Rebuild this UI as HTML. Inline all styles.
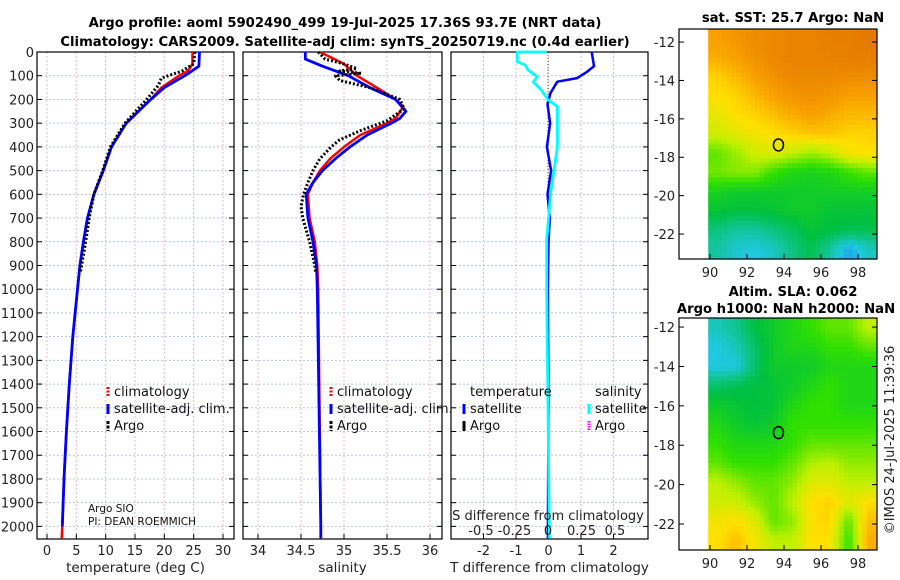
<!DOCTYPE html>
<html><head><meta charset="utf-8"><style>
body{margin:0;background:#fff}
svg{display:block;font-family:"DejaVu Sans","Liberation Sans",sans-serif}
</style></head><body>
<svg id="c" width="900" height="580">
<text x="345" y="27" text-anchor="middle" font-size="13.2" font-weight="bold">Argo profile: aoml 5902490_499 19-Jul-2025 17.36S 93.7E (NRT data)</text>
<text x="345" y="46" text-anchor="middle" font-size="13.2" font-weight="bold">Climatology: CARS2009. Satellite-adj clim: synTS_20250719.nc (0.4d earlier)</text>
<text x="793" y="22" text-anchor="middle" font-size="13.2" font-weight="bold">sat. SST: 25.7 Argo: NaN</text>
<text x="793" y="296" text-anchor="middle" font-size="13.2" font-weight="bold">Altim. SLA: 0.062</text>
<text x="786" y="313" text-anchor="middle" font-size="13.2" font-weight="bold">Argo h1000: NaN h2000: NaN</text>
<text transform="translate(894,440) rotate(-90)" text-anchor="middle" font-size="13" fill="#222">©IMOS 24-Jul-2025 11:39:36</text>
</svg>
<script>
const depthTicks=[0,100,200,300,400,500,600,700,800,900,1000,1100,1200,1300,1400,1500,1600,1700,1800,1900,2000];
const tempTicks=[0,5,10,15,20,25,30];
const salTicks=[34,34.5,35,35.5,36];
const tdTicks=[-2,-1,0,1,2];
const sdTicks=[-0.5,-0.25,0,0.25,0.5];
const sdTickLabels=["-0.5","-0.25","0","0.25","0.5"];
const tClimD=[0,50,80,100,150,200,300,400,500,600,700,800,900,1000,1200,1400,1600,1800,2000,2050];
const tClimV=[24.8,24.8,24,22.5,19.5,17.7,13.5,11,9.6,8,6.9,6.2,5.6,5.2,4.4,3.8,3.3,2.9,2.6,2.5];
const tSatD=[0,60,100,150,200,300,400,500,600,700,800,900,1000,1200,1400,1600,1800,2000];
const tSatV=[26,25.9,23.5,20,17.7,13.5,11,9.6,8,6.9,6.2,5.6,5.2,4.4,3.8,3.3,2.9,2.6];
const tArgoD=[0,50,80,110,140,170,200,300,400,500,600,700,800,900,930];
const tArgoV=[25.2,25,23,19.5,19,18,17,13.3,10.8,9.5,8,7.2,6.6,5.9,5.7];
const sClimD=[0,50,100,150,200,230,280,300,350,400,450,500,550,600,700,800,900,1000,2000,2050];
const sClimV=[34.72,35.0,35.15,35.38,35.6,35.69,35.6,35.5,35.19,35.0,34.84,34.72,34.64,34.58,34.6,34.66,34.69,34.7,34.73,34.73];
const sSatD=[0,30,60,100,150,200,250,280,300,350,400,450,500,550,600,700,800,900,1000,2000,2050];
const sSatV=[34.55,34.55,34.75,35.05,35.3,35.6,35.72,35.65,35.55,35.27,35.07,34.9,34.75,34.64,34.56,34.58,34.64,34.68,34.69,34.73,34.73];
const sArgoD=[0,30,50,70,80,90,100,120,150,200,240,290,330,370,400,450,500,550,600,650,700,800,900,930];
const sArgoV=[34.7,34.78,35.0,35.15,34.95,35.2,34.9,34.95,35.3,35.65,35.7,35.5,35.2,34.95,34.85,34.72,34.64,34.58,34.53,34.5,34.52,34.6,34.66,34.67];
const tdD=[0,60,84,110,125,173,220,300,400,500,600,700,800,1000,1500,2000,2050];
const tdV=[1.33,1.4,1.18,0.88,0.27,0.06,-0.03,0.05,-0.05,0.08,-0.03,0.04,0,-0.02,0,-0.02,-0.02];
const sdD=[0,0,41,55,76,104,126,160,202,230,400,595,792,1000,1500,2000,2050];
const sdV=[-0.01,-0.23,-0.23,-0.17,-0.15,-0.08,-0.11,-0.05,0,0.07,0.07,0.02,-0.01,-0.01,0,0.01,0.01];
const sstGrid=[
[.9,.92,.94,.95,.96,.96,.97,.97,.98],
[.88,.9,.93,.95,.96,.96,.96,.97,.97],
[.82,.86,.9,.93,.95,.95,.95,.94,.94],
[.8,.82,.86,.9,.92,.93,.92,.9,.9],
[.76,.8,.82,.85,.88,.9,.88,.86,.86],
[.72,.75,.78,.8,.82,.84,.84,.82,.82],
[.6,.66,.72,.74,.7,.66,.7,.78,.8],
[.62,.64,.64,.55,.5,.48,.5,.55,.6],
[.48,.45,.45,.45,.45,.45,.46,.46,.46],
[.42,.4,.4,.42,.45,.45,.42,.42,.42],
[.32,.28,.28,.32,.36,.42,.4,.38,.38],
[.28,.22,.2,.24,.32,.38,.28,.14,.24]];
const slaGrid=[
[.25,.3,.4,.45,.5,.55,.6,.6,.7],
[.2,.25,.35,.45,.5,.5,.55,.55,.6],
[.2,.2,.35,.45,.45,.45,.5,.5,.5],
[.35,.38,.4,.42,.45,.5,.55,.5,.5],
[.45,.42,.4,.42,.5,.55,.55,.5,.5],
[.5,.45,.42,.45,.55,.55,.55,.55,.55],
[.55,.5,.5,.5,.55,.6,.6,.6,.6],
[.6,.55,.55,.55,.6,.68,.7,.65,.65],
[.7,.65,.6,.6,.65,.75,.75,.7,.7],
[.72,.72,.65,.6,.7,.8,.82,.75,.8],
[.78,.8,.75,.6,.65,.8,.82,.6,.85],
[.8,.85,.78,.7,.7,.8,.8,.55,.88]];
const lonTicks=[90,92,94,96,98];
const latTicks=[-12,-14,-16,-18,-20,-22];
const floatLon=93.7, floatLat=-17.36;

const svg=document.getElementById('c');const NS='http://www.w3.org/2000/svg';
function mk(t,a,p){const e=document.createElementNS(NS,t);for(const k in a)e.setAttribute(k,a[k]);(p||svg).appendChild(e);return e;}
const Y0=52,Y1=539;
const yD=d=>Y0+d*0.2372;
function lin(d0,d1,r0,r1){return v=>r0+(v-d0)/(d1-d0)*(r1-r0);}
const panels=[
 {name:'temperature',x0:37,x1:234,sx:lin(0,30,47,223),ticks:tempTicks,lab:tempTicks.map(String),xl:'temperature (deg C)'},
 {name:'salinity',x0:243,x1:442,sx:lin(34,36,258,430),ticks:salTicks,lab:salTicks.map(String),xl:'salinity'},
 {name:'difference',x0:451,x1:648,sx:lin(-1,1,516,581),ticks:tdTicks,lab:tdTicks.map(String),xl:'T difference from climatology'}];
panels.forEach((p,i)=>{
 const g=mk('g',{});
 
 
 depthTicks.forEach(d=>{const l=mk('line',{x1:p.x0,x2:p.x1,y1:yD(d),y2:yD(d),stroke:'#b8c4e8','stroke-width':1,'stroke-dasharray':'2,2'},g);
  mk('line',{x1:p.x0,x2:p.x0+5,y1:yD(d),y2:yD(d),stroke:'#000'},g);mk('line',{x1:p.x1,x2:p.x1-5,y1:yD(d),y2:yD(d),stroke:'#000'},g);});
 p.ticks.forEach((t,j)=>{const x=p.sx(t);const l=mk('line',{x1:x,x2:x,y1:Y0,y2:Y1,stroke:'#d8c0c0','stroke-width':1,'stroke-dasharray':'2,2'},g);
  mk('line',{x1:x,x2:x,y1:Y1,y2:Y1-5,stroke:'#000'},g);
  const tx=mk('text',{x:x,y:555,'text-anchor':'middle','font-size':13,fill:'#222'},g);tx.textContent=p.lab[j];});
 mk('rect',{x:p.x0,y:Y0,width:p.x1-p.x0,height:Y1-Y0,fill:'none',stroke:'#000','stroke-width':1.2},g);
 const xl=mk('text',{x:(p.x0+p.x1)/2,y:572,'text-anchor':'middle','font-size':13.5,fill:'#222'},g);xl.textContent=p.xl;
});
depthTicks.forEach(d=>{const t=mk('text',{x:34,y:yD(d)+5,'text-anchor':'end','font-size':13,fill:'#222'});t.textContent=d;});
function line(D,V,sx,col,w,dash,name){const pts=D.map((d,i)=>sx(V[i]).toFixed(1)+','+yD(d).toFixed(1)).join(' ');const a={points:pts,fill:'none',stroke:col,'stroke-width':w,'stroke-linejoin':'round'};if(dash)a['stroke-dasharray']=dash;const e=mk('polyline',a);}
const P=panels;
line(tClimD,tClimV,P[0].sx,'#f00',2.5,null,'temp-climatology-line');
line(tSatD,tSatV,P[0].sx,'#00f',2.8,null,'temp-satellite-line');
line(tArgoD,tArgoV,P[0].sx,'#000',3,'2,2','temp-argo-line');
line(sClimD,sClimV,P[1].sx,'#f00',2.5,null,'sal-climatology-line');
line(sSatD,sSatV,P[1].sx,'#00f',2.8,null,'sal-satellite-line');
line(sArgoD,sArgoV,P[1].sx,'#000',3,'2,2','sal-argo-line');
const zl=mk('line',{x1:548,x2:548,y1:Y0,y2:Y1,stroke:'#555','stroke-dasharray':'1,2'});
const sdx=lin(-0.5,0.5,481,615);
line(tdD,tdV,P[2].sx,'#00f',2.5,null,'temp-diff-line');
line(sdD,sdV,sdx,'#0ff',2.8,null,'salinity-diff-line');
function leg(x,y,col,txt,name,dash){const g=mk('g',{});
 if(col){const a={x1:x,x2:x,y1:y-9,y2:y+1,stroke:col,'stroke-width':3};if(dash)a['stroke-dasharray']=dash;mk('line',a,g);}
 const t=mk('text',{x:x+6,y:y,'font-size':13,fill:'#111'},g);t.textContent=txt;}
[[108,'#f00','climatology','2,1.5'],[108,'#00f','satellite-adj. clim.'],[108,'#000','Argo','3,1.5']].forEach((a,i)=>leg(a[0],396+i*17,a[1],a[2],'temp-legend-'+i,a[3]));
[[331,'#f00','climatology','2,1.5'],[331,'#00f','satellite-adj. clim.'],[331,'#000','Argo','3,1.5']].forEach((a,i)=>leg(a[0],396+i*17,a[1],a[2],'sal-legend-'+i,a[3]));
leg(464,396,null,'temperature','diff-legend-temp-header');leg(589,396,null,'salinity','diff-legend-sal-header');
leg(464,413,'#00f','satellite','diff-legend-temp-sat');leg(464,430,'#000','Argo','diff-legend-temp-argo');
leg(589,413,'#0ff','satellite','diff-legend-sal-sat');leg(589,430,'#f0f','Argo','diff-legend-sal-argo','1.5,1');
const st=mk('text',{x:548,y:520,'text-anchor':'middle','font-size':13,fill:'#222'});st.textContent='S difference from climatology';
sdTicks.forEach((t,i)=>{const e=mk('text',{x:sdx(t),y:535,'text-anchor':'middle','font-size':13,fill:'#222'});e.textContent=sdTickLabels[i];});
const a1=mk('text',{x:88,y:512,'font-size':10.5,fill:'#111'});a1.textContent='Argo SIO';
const a2=mk('text',{x:88,y:525,'font-size':10.5,fill:'#111'});a2.textContent='PI: DEAN ROEMMICH';
const stops=[[0,[16,96,255]],[0.2,[32,200,224]],[0.4,[0,192,64]],[0.55,[48,224,0]],[0.7,[192,240,0]],[0.8,[255,224,0]],[0.9,[248,160,0]],[1,[224,112,0]]];
function cmap(v){for(let i=1;i<stops.length;i++){if(v<=stops[i][0]){const a=stops[i-1],b=stops[i],f=(v-a[0])/(b[0]-a[0]);return 'rgb('+a[1].map((c,k)=>Math.round(c+(b[1][k]-c)*f)).join(',')+')';}}return 'rgb(224,112,0)';}
function sample(grid,fr,fc){const nr=grid.length,nc=grid[0].length;
 fr=Math.max(0,Math.min(nr-1,fr));fc=Math.max(0,Math.min(nc-1,fc));
 const r0=Math.floor(fr),c0=Math.floor(fc),r1=Math.min(nr-1,r0+1),c1=Math.min(nc-1,c0+1),a=fr-r0,b=fc-c0;
 return grid[r0][c0]*(1-a)*(1-b)+grid[r0][c1]*(1-a)*b+grid[r1][c0]*a*(1-b)+grid[r1][c1]*a*b;}
function map(grid,yTop,yBot,lat0,lat1,name){
 const g=mk('g',{});
 const sxl=lin(90,98,710,858);
 const syl=lin(lat0,lat1,yTop,yBot);
 const nr=grid.length,nc=grid[0].length,S=4;
 const lonA=89.9,lonB=99.0;
 for(let r=0;r<nr*S;r++)for(let c=0;c<nc*S;c++){
  const x=sxl(lonA+(lonB-lonA)*c/(nc*S)),x2=sxl(lonA+(lonB-lonA)*(c+1)/(nc*S));
  const y=syl(lat0+(lat1-lat0)*r/(nr*S)),y2=syl(lat0+(lat1-lat0)*(r+1)/(nr*S));
  const v=sample(grid,(r+0.5)/S-0.5,(c+0.5)/S-0.5);
  const e=mk('rect',{x:x.toFixed(1),y:y.toFixed(1),width:(x2-x+0.6).toFixed(1),height:(y2-y+0.6).toFixed(1),fill:cmap(v)},g);
  
  }
 mk('rect',{x:679,y:yTop,width:198,height:yBot-yTop,fill:'none',stroke:'#000','stroke-width':1.2},g);
 latTicks.forEach(t=>{const y=syl(t);mk('line',{x1:679,x2:684,y1:y,y2:y,stroke:'#000'},g);mk('line',{x1:877,x2:872,y1:y,y2:y,stroke:'#000'},g);
  const e=mk('text',{x:675,y:y+5,'text-anchor':'end','font-size':13,fill:'#222'},g);e.textContent=t;});
 lonTicks.forEach(t=>{const x=sxl(t);mk('line',{x1:x,x2:x,y1:yBot,y2:yBot-5,stroke:'#000'},g);
  const e=mk('text',{x:x,y:yBot+18,'text-anchor':'middle','font-size':13,fill:'#222'},g);e.textContent=t;});
 const m=mk('ellipse',{cx:sxl(floatLon),cy:syl(floatLat),rx:5,ry:6,fill:'none',stroke:'#000','stroke-width':1.5},g);
 
}
map(sstGrid,29,259,-11.32,-23.3,'sst-map');
map(slaGrid,318,550,-11.54,-23.32,'sla-map');
</script>
</body></html>
